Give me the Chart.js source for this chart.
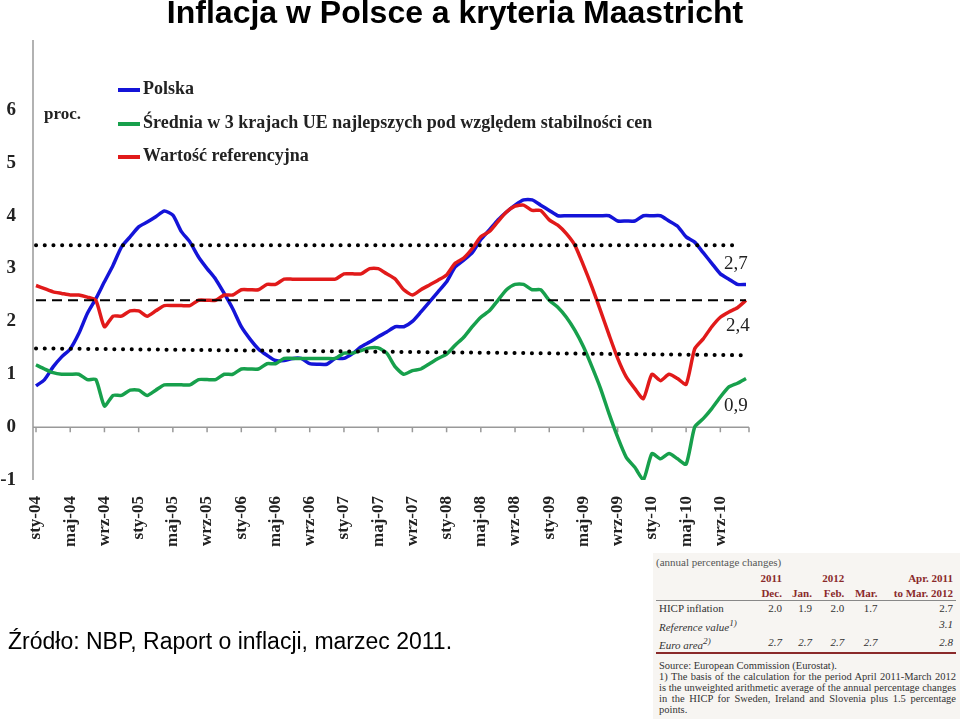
<!DOCTYPE html>
<html>
<head>
<meta charset="utf-8">
<script src="https://cdn.jsdelivr.net/npm/chart.js@4"></script>
<style>
body { margin: 0; width: 960px; height: 719px; overflow: hidden; background: #fff; position: relative; font-family: "Liberation Serif", serif; }
#c { position: absolute; left: 0; top: 0; }
.t { position: absolute; white-space: nowrap; }
#title { left: 0; width: 910px; text-align: center; top: -6px; font: bold 32px "Liberation Sans", Arial, sans-serif; color: #000; }
.leg { font-weight: bold; font-size: 18px; color: #222; }
.sw { position: absolute; width: 22px; height: 4px; }
.ann { font-size: 19px; color: #222; }
#src { left: 8px; top: 628px; font: 23px "Liberation Sans", Arial, sans-serif; color: #000; }
#tab { position: absolute; left: 653px; top: 553px; width: 307px; height: 166px; background: #f7f5f2; font-size: 11px; color: #333; overflow: hidden; }
#tab table { border-collapse: collapse; width: 300px; margin-left: 3px; font-size: 11px; }
#tab td { padding: 0 3px; text-align: right; line-height: 14.5px; }
#tab td:first-child { text-align: left; }
</style>
</head>
<body>
<canvas id="c" width="960" height="719"></canvas>
<div class="t" id="title">Inflacja w Polsce a kryteria Maastricht</div>
<div class="t leg" style="left:44px;top:104px;font-size:17px">proc.</div>
<div class="sw" style="left:118px;top:88px;background:#1414d8"></div>
<div class="t leg" style="left:143px;top:78px">Polska</div>
<div class="sw" style="left:118px;top:122px;background:#17a04c"></div>
<div class="t leg" style="left:143px;top:112px">Średnia w 3 krajach UE najlepszych pod względem stabilności cen</div>
<div class="sw" style="left:118px;top:155px;background:#e11a1a"></div>
<div class="t leg" style="left:143px;top:145px">Wartość referencyjna</div>
<div class="t ann" style="left:724px;top:252px">2,7</div>
<div class="t ann" style="left:726px;top:314px">2,4</div>
<div class="t ann" style="left:724px;top:394px">0,9</div>
<div class="t" id="src">Źródło: NBP, Raport o inflacji, marzec 2011.</div>
<div id="tab">
  <div style="margin:3px 0 3px 3px;color:#555">(annual percentage changes)</div>
  <table>
    <tr style="font-weight:bold;color:#8a2a2a"><td></td><td>2011</td><td></td><td>2012</td><td></td><td>Apr. 2011</td></tr>
    <tr style="font-weight:bold;color:#8a2a2a;border-bottom:1px solid #888"><td></td><td>Dec.</td><td>Jan.</td><td>Feb.</td><td>Mar.</td><td>to Mar. 2012</td></tr>
    <tr><td>HICP inflation</td><td>2.0</td><td>1.9</td><td>2.0</td><td>1.7</td><td>2.7</td></tr>
    <tr style="font-style:italic"><td>Reference value<sup>1)</sup></td><td></td><td></td><td></td><td></td><td>3.1</td></tr>
    <tr style="font-style:italic;border-bottom:2px solid #8a2a2a"><td>Euro area<sup>2)</sup></td><td>2.7</td><td>2.7</td><td>2.7</td><td>2.7</td><td>2.8</td></tr>
  </table>
  <div style="margin:6px 4px 0 6px;line-height:11px;font-size:10.5px;text-align:justify">Source: European Commission (Eurostat).<br>1) The basis of the calculation for the period April 2011-March 2012 is the unweighted arithmetic average of the annual percentage changes in the HICP for Sweden, Ireland and Slovenia plus 1.5 percentage points.</div>
</div>
<script>
var MONTHS = ['sty', 'lut', 'mar', 'kwi', 'maj', 'cze', 'lip', 'sie', 'wrz', 'paź', 'lis', 'gru'];
var YEARS = ['04', '05', '06', '07', '08', '09', '10'];
var labels = [];
YEARS.forEach(function (y) { MONTHS.forEach(function (m) { labels.push(m + '-' + y); }); });

var polska = [0.78, 0.9, 1.14, 1.33, 1.48, 1.77, 2.15, 2.43, 2.75, 3.06, 3.41, 3.6,
    3.79, 3.88, 3.98, 4.09, 4.01, 3.7, 3.5, 3.22, 3.0, 2.8, 2.53, 2.24,
    1.9, 1.67, 1.48, 1.36, 1.26, 1.26, 1.3, 1.3, 1.2, 1.19, 1.19, 1.3,
    1.3, 1.39, 1.52, 1.61, 1.71, 1.8, 1.9, 1.9, 2.0, 2.18, 2.37, 2.56,
    2.75, 3.03, 3.16, 3.3, 3.55, 3.73, 3.92, 4.07, 4.2, 4.3, 4.3, 4.2,
    4.1, 4.0, 4.0, 4.0, 4.0, 4.0, 4.0, 4.0, 3.9, 3.9, 3.9, 4.0,
    4.0, 4.0, 3.9, 3.8, 3.6, 3.5, 3.3, 3.1, 2.9, 2.8, 2.7, 2.7];
var srednia = [1.18, 1.1, 1.03, 1.0, 1.0, 1.0, 0.9, 0.9, 0.4, 0.6, 0.6, 0.7,
    0.7, 0.6, 0.7, 0.8, 0.8, 0.8, 0.8, 0.9, 0.9, 0.9, 1.0, 1.0,
    1.1, 1.1, 1.1, 1.2, 1.2, 1.3, 1.3, 1.3, 1.3, 1.3, 1.3, 1.3,
    1.4, 1.4, 1.45, 1.5, 1.5, 1.4, 1.14, 1.0, 1.07, 1.1, 1.2, 1.3,
    1.38, 1.55, 1.7, 1.9, 2.08, 2.2, 2.4, 2.6, 2.7, 2.7, 2.6, 2.6,
    2.4, 2.27, 2.08, 1.83, 1.52, 1.14, 0.73, 0.25, -0.19, -0.57, -0.76, -1.0,
    -0.5, -0.6, -0.5, -0.6, -0.7, 0.0, 0.16, 0.35, 0.57, 0.76, 0.83, 0.92];
var referencyjna = [2.68, 2.62, 2.56, 2.53, 2.5, 2.5, 2.46, 2.4, 1.9, 2.1, 2.1, 2.2,
    2.2, 2.1, 2.2, 2.3, 2.3, 2.3, 2.3, 2.4, 2.4, 2.4, 2.5, 2.5,
    2.6, 2.6, 2.6, 2.7, 2.7, 2.8, 2.8, 2.8, 2.8, 2.8, 2.8, 2.8,
    2.9, 2.9, 2.9, 3.0, 3.0, 2.9, 2.8, 2.6, 2.5, 2.6, 2.69, 2.78,
    2.88, 3.1, 3.2, 3.38, 3.6, 3.7, 3.89, 4.07, 4.18, 4.2, 4.1, 4.1,
    3.92, 3.82, 3.66, 3.44, 3.06, 2.65, 2.2, 1.74, 1.3, 0.95, 0.73, 0.54,
    1.0, 0.88, 1.0, 0.92, 0.81, 1.48, 1.67, 1.9, 2.08, 2.18, 2.26, 2.4];

// poziomy odniesienia (początek, koniec)
var gornyPoziom = [3.44, 3.44];
var srodkowyPoziom = [2.4, 2.4];
var dolnyPoziom = [1.49, 1.36];

function ends(pair, lastIdx) {
    var a = Array(labels.length).fill(null);
    a[0] = pair[0];
    a[lastIdx] = pair[1];
    return a;
}

var axisPlugin = {
    id: 'zeroAxis',
    beforeDatasetsDraw: function (chart) {
        var ctx = chart.ctx, x = chart.scales.x, y = chart.scales.y;
        var y0 = y.getPixelForValue(0);
        ctx.save();
        ctx.strokeStyle = '#999';
        ctx.lineWidth = 1.5;
        ctx.beginPath();
        ctx.moveTo(chart.chartArea.left - 3, y0);
        ctx.lineTo(chart.chartArea.right + 3, y0);
        for (var i = 0; i < labels.length; i += 4) {
            var px = x.getPixelForValue(i);
            ctx.moveTo(px, y0);
            ctx.lineTo(px, y0 + 5);
        }
        ctx.moveTo(chart.chartArea.right + 3, y0);
        ctx.lineTo(chart.chartArea.right + 3, y0 + 5);
        ctx.moveTo(chart.chartArea.left - 3, 40);
        ctx.lineTo(chart.chartArea.left - 3, chart.chartArea.bottom);
        ctx.stroke();
        ctx.restore();
    }
};

var dot = { borderColor: '#000', borderWidth: 4, borderDash: [0.1, 8.6], borderCapStyle: 'round', pointRadius: 0, spanGaps: true, tension: 0 };

new Chart(document.getElementById('c').getContext('2d'), {
    type: 'line',
    data: {
        labels: labels,
        datasets: [
            Object.assign({ data: ends(gornyPoziom, 82) }, dot),
            { data: ends(srodkowyPoziom, 83), borderColor: '#000', borderWidth: 2, borderDash: [10, 6], pointRadius: 0, spanGaps: true },
            Object.assign({ data: ends(dolnyPoziom, 83) }, dot),
            { label: 'Wartość referencyjna', data: referencyjna, borderColor: '#e11a1a', borderWidth: 3.5, pointRadius: 0, tension: 0.2 },
            { label: 'Średnia', data: srednia, borderColor: '#17a04c', borderWidth: 3.5, pointRadius: 0, tension: 0.2 },
            { label: 'Polska', data: polska, borderColor: '#1414d8', borderWidth: 3.5, pointRadius: 0, tension: 0.2 }
        ]
    },
    options: {
        responsive: false,
        animation: false,
        layout: { padding: { top: 110, right: 214, left: 0, bottom: 0 } },
        plugins: { legend: { display: false }, tooltip: { enabled: false } },
        scales: {
            x: {
                grid: { display: false },
                border: { display: false },
                afterFit: function (s) { s.height = 239; },
                ticks: {
                    autoSkip: false, minRotation: 90, maxRotation: 90, padding: 8,
                    color: '#222', font: { family: 'Liberation Serif', size: 17, weight: 'bold' },
                    callback: function (v, i) { return i % 4 === 0 ? labels[i] : ''; }
                }
            },
            y: {
                min: -1, max: 6,
                grid: { display: false },
                border: { display: false },
                afterFit: function (s) { s.width = 36; },
                ticks: { stepSize: 1, padding: 12, color: '#222', font: { family: 'Liberation Serif', size: 19, weight: 'bold' } }
            }
        }
    },
    plugins: [axisPlugin]
});
</script>
</body>
</html>
